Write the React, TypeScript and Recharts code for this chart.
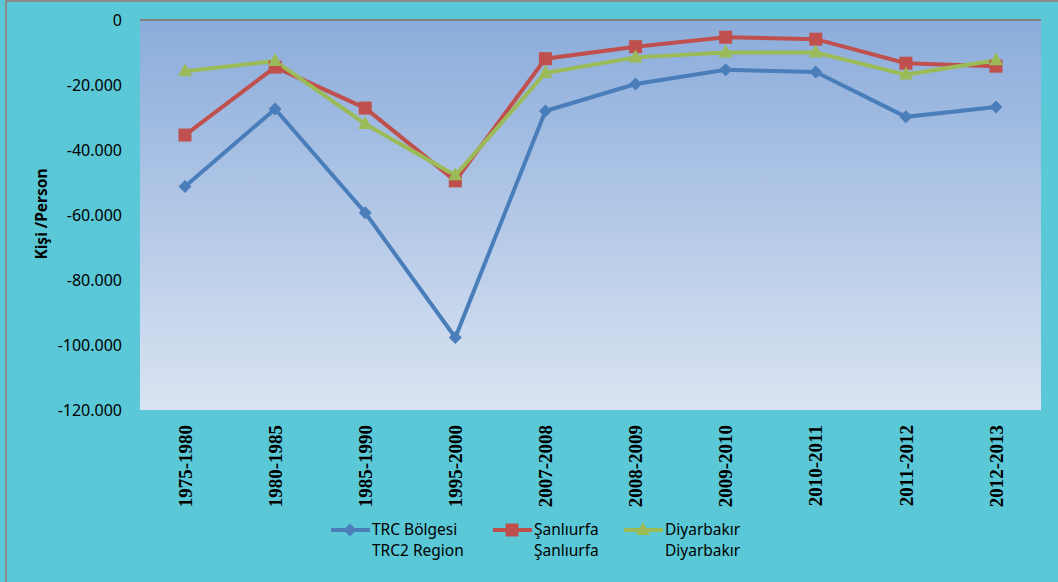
import React from "react";
import {
  CartesianGrid,
  Line,
  LineChart,
  ReferenceLine,
  XAxis,
  YAxis,
} from "recharts";

const periods = [
  "1975-1980",
  "1980-1985",
  "1985-1990",
  "1995-2000",
  "2007-2008",
  "2008-2009",
  "2009-2010",
  "2010-2011",
  "2011-2012",
  "2012-2013",
];
const trcRegion = [-51200, -27400, -59300, -97700, -28000, -19700, -15300, -16000, -29800, -26800];
const sanliurfa = [-35400, -14500, -27100, -49500, -11900, -8200, -5300, -5900, -13300, -14200];
const diyarbakir = [-15800, -12600, -32000, -47800, -16300, -11500, -10000, -10000, -16800, -12400];
const yTicks = [0, -20000, -40000, -60000, -80000, -100000, -120000];

const series = [
  { key: "trc", line1: "TRC Bölgesi", line2: "TRC2 Region", color: "#4A7EBB", shape: "diamond" },
  { key: "sanliurfa", line1: "Şanlıurfa", line2: "Şanlıurfa", color: "#C0504D", shape: "square" },
  { key: "diyarbakir", line1: "Diyarbakır", line2: "Diyarbakır", color: "#9BBB59", shape: "triangle" },
];

const data = periods.map((period, i) => ({
  period,
  trc: trcRegion[i],
  sanliurfa: sanliurfa[i],
  diyarbakir: diyarbakir[i],
}));

const formatTick = (v: number) =>
  v === 0 ? "0" : v.toLocaleString("en-US").replace(/,/g, ".");

function Marker({ shape, color, cx, cy }: { shape: string; color: string; cx: number; cy: number }) {
  if (shape === "diamond") {
    const r = 6.5;
    return (
      <polygon
        points={`${cx},${cy - r} ${cx + r},${cy} ${cx},${cy + r} ${cx - r},${cy}`}
        fill={color}
      />
    );
  }
  if (shape === "square") {
    const h = 6.5;
    return <rect x={cx - h} y={cy - h} width={h * 2} height={h * 2} fill={color} />;
  }
  const w = 7;
  return (
    <polygon
      points={`${cx},${cy - 8} ${cx + w},${cy + 5} ${cx - w},${cy + 5}`}
      fill={color}
    />
  );
}

function PeriodTick({ x, y, payload }: any) {
  return (
    <text
      transform={`translate(${x},${y + 7}) rotate(-90)`}
      textAnchor="end"
      dy="0.35em"
      fontFamily="'Liberation Serif', 'Times New Roman', serif"
      fontWeight="bold"
      fontSize={19}
      fill="#000"
    >
      {payload.value}
    </text>
  );
}

const legendLeft = [330, 492, 623];

export default function App() {
  return (
    <div
      style={{
        position: "fixed",
        left: 0,
        top: 0,
        width: 1058,
        height: 582,
        background: "#5BC8D7",
        overflow: "hidden",
        fontFamily: "'Noto Sans', 'Open Sans', sans-serif",
      }}
    >
      <div
        style={{
          position: "absolute",
          left: 5,
          top: 0,
          width: 1100,
          height: 600,
          borderLeft: "2px solid #8a8a8a",
          borderTop: "2px solid #8a8a8a",
        }}
      />
      <div style={{ position: "absolute", left: 0, top: 0 }}>
        <LineChart
          width={1058}
          height={582}
          data={data}
          margin={{ top: 20, right: 17, left: 0, bottom: 0 }}
        >
          <defs>
            <linearGradient id="plotBg" x1="0" y1="0" x2="0" y2="1">
              <stop offset="0%" stopColor="#8BACDB" />
              <stop offset="100%" stopColor="#DAE4F2" />
            </linearGradient>
          </defs>
          <CartesianGrid
            horizontal={false}
            vertical={false}
            fill="url(#plotBg)"
            fillOpacity={1}
            stroke="none"
          />
          <XAxis
            dataKey="period"
            height={172}
            padding={{ left: 45, right: 45 }}
            axisLine={false}
            tickLine={false}
            interval={0}
            tick={<PeriodTick />}
          />
          <YAxis
            width={140}
            domain={[-120000, 0]}
            ticks={yTicks}
            interval={0}
            axisLine={false}
            tickLine={false}
            tickFormatter={formatTick}
            tick={{ fill: "#000", fontSize: 16, fontFamily: "'Noto Sans', sans-serif" }}
            tickMargin={12}
            label={{
              value: "Kişi /Person",
              angle: -90,
              position: "insideLeft",
              offset: 0,
              dx: 41,
              dy: -1,
              style: {
                fill: "#000",
                fontSize: 15.5,
                fontWeight: "bold",
                fontFamily: "'Noto Sans', sans-serif",
                textAnchor: "middle",
              },
            }}
          />
          <ReferenceLine y={0} stroke="#808080" strokeWidth={2} />
          {series.map((s) => (
            <Line
              key={s.key}
              dataKey={s.key}
              stroke={s.color}
              strokeWidth={4}
              isAnimationActive={false}
              dot={(p: any) => (
                <Marker key={`${s.key}-${p.index}`} shape={s.shape} color={s.color} cx={p.cx} cy={p.cy} />
              )}
              activeDot={false}
            />
          ))}
        </LineChart>
      </div>
      {series.map((s, i) => (
        <div
          key={s.key}
          style={{
            position: "absolute",
            left: legendLeft[i],
            top: 519,
            display: "flex",
            alignItems: "flex-start",
          }}
        >
          <svg width={41} height={22} style={{ display: "block" }}>
            <line x1={1} y1={11} x2={40} y2={11} stroke={s.color} strokeWidth={4} />
            <Marker shape={s.shape} color={s.color} cx={20} cy={11} />
          </svg>
          <div style={{ fontSize: 15.5, lineHeight: "21px", color: "#000", marginLeft: 1 }}>
            <div>{s.line1}</div>
            <div>{s.line2}</div>
          </div>
        </div>
      ))}
    </div>
  );
}
